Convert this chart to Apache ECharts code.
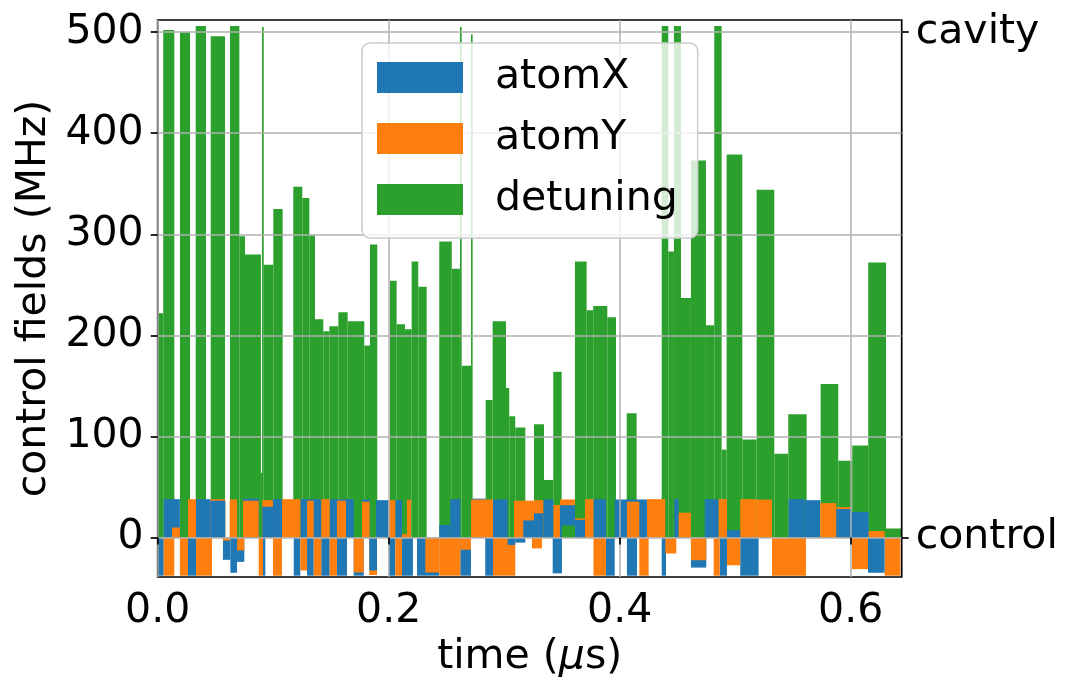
<!DOCTYPE html>
<html>
<head>
<meta charset="utf-8">
<title>control fields</title>
<script src="https://cdn.jsdelivr.net/npm/echarts@6/dist/echarts.min.js"></script>
<style>
  html, body { margin: 0; padding: 0; background: #fff; }
  #chart { width: 1077px; height: 699px; }
</style>
</head>
<body>
<div id="chart"></div>
<script>
// [start (µs), end (µs), value (MHz)]
const detuning = [
  [0.0000, 0.0048, 222], [0.0048, 0.0144, 502], [0.0193, 0.0280, 500], [0.0329, 0.0418, 506],
  [0.0459, 0.0583, 496], [0.0626, 0.0707, 506], [0.0707, 0.0756, 298], [0.0756, 0.0894, 280],
  [0.0894, 0.0903, 64], [0.0903, 0.0918, 505], [0.0918, 0.1001, 270], [0.1001, 0.1082, 325],
  [0.1174, 0.1252, 347], [0.1252, 0.1313, 336], [0.1313, 0.1362, 299], [0.1362, 0.1434, 216],
  [0.1434, 0.1486, 204], [0.1486, 0.1564, 209], [0.1564, 0.1645, 223], [0.1645, 0.1789, 214],
  [0.1789, 0.1838, 190], [0.1838, 0.1901, 290], [0.2011, 0.2069, 254], [0.2069, 0.2141, 211],
  [0.2141, 0.2199, 206], [0.2199, 0.2256, 273], [0.2256, 0.2329, 248], [0.2438, 0.2546, 293],
  [0.2546, 0.2617, 266], [0.2617, 0.2632, 505], [0.2632, 0.2713, 170], [0.2713, 0.2727, 498],
  [0.2840, 0.2900, 136], [0.2900, 0.3016, 214], [0.3016, 0.3044, 148], [0.3044, 0.3096, 120],
  [0.3096, 0.3183, 109], [0.3258, 0.3345, 112], [0.3345, 0.3425, 57], [0.3425, 0.3498, 164],
  [0.3498, 0.3613, 12], [0.3613, 0.3714, 273], [0.3714, 0.3771, 225], [0.3771, 0.3893, 229],
  [0.3893, 0.3968, 218], [0.4061, 0.4147, 123], [0.4364, 0.4421, 506], [0.4421, 0.4470, 283],
  [0.4470, 0.4531, 506], [0.4531, 0.4617, 237], [0.4617, 0.4747, 373], [0.4747, 0.4819, 210],
  [0.4819, 0.4883, 506], [0.4883, 0.4926, 87], [0.4926, 0.5062, 379], [0.5062, 0.5186, 97],
  [0.5186, 0.5339, 344], [0.5339, 0.5460, 83], [0.5460, 0.5619, 122], [0.5740, 0.5893, 152],
  [0.5893, 0.6014, 76], [0.6014, 0.6152, 91], [0.6152, 0.6306, 272], [0.6306, 0.6442, 9]
]

const atomX = [
  [0.0000, 0.0052, -37.7], [0.0052, 0.0192, 38], [0.0262, 0.0332, -37.7], [0.0332, 0.0455, 38],
  [0.0455, 0.0585, 36.5], [0.0565, 0.0629, -22], [0.0629, 0.0687, -34.8], [0.0687, 0.0750, -24],
  [0.0739, 0.0874, 38.5], [0.0906, 0.0998, 30.5], [0.0912, 0.0932, -37.7], [0.0998, 0.1076, 38],
  [0.1178, 0.1235, -37.7], [0.1235, 0.1416, 38], [0.1293, 0.1351, -37.7], [0.1416, 0.1489, -37.7],
  [0.1489, 0.1697, 38], [0.1552, 0.1639, -37.7], [0.1697, 0.1784, -37.7], [0.1769, 0.1835, 37.7],
  [0.1832, 0.1899, -32.5], [0.1890, 0.2000, 37], [0.2000, 0.2057, -37.7], [0.2057, 0.2115, 37],
  [0.2115, 0.2210, -37.7], [0.2245, 0.2438, -37.7], [0.2438, 0.2533, 12.4], [0.2533, 0.2620, 38],
  [0.2620, 0.2713, -37.7], [0.2713, 0.2842, 38.5], [0.2836, 0.2903, -37.7], [0.2903, 0.3030, 37.7],
  [0.3030, 0.3096, -7.3], [0.3096, 0.3183, -5], [0.3165, 0.3258, 17], [0.3258, 0.3339, 24],
  [0.3339, 0.3427, 37.7], [0.3420, 0.3500, -35.4], [0.3483, 0.3613, 32], [0.3613, 0.3700, 17.5],
  [0.3773, 0.3881, 38], [0.3881, 0.3957, -37.7], [0.3957, 0.4236, 37.6], [0.4063, 0.4150, -37.7],
  [0.4364, 0.4401, -37.7], [0.4473, 0.4511, 38], [0.4617, 0.4750, -29.7], [0.4736, 0.4857, 38],
  [0.4866, 0.4929, -37.7], [0.4929, 0.5044, 7.3], [0.5044, 0.5203, -37.7], [0.5463, 0.5602, 38],
  [0.5602, 0.5737, 37], [0.5875, 0.6011, 28.2], [0.6011, 0.6156, 25.4], [0.6150, 0.6294, -34.8]
]

const atomY = [
  [0.0052, 0.0144, -37.7], [0.0124, 0.0192, 10], [0.0192, 0.0262, -37.7], [0.0262, 0.0332, 38],
  [0.0332, 0.0470, -37.7], [0.0455, 0.0585, 38], [0.0565, 0.0629, -3], [0.0623, 0.0687, 37.7],
  [0.0687, 0.0750, -12.7], [0.0739, 0.0874, 36.5], [0.0874, 0.0912, -37.7], [0.0906, 0.0998, 37],
  [0.0998, 0.1076, -37.7], [0.1076, 0.1235, 38], [0.1235, 0.1293, -32.5], [0.1293, 0.1351, 36.5],
  [0.1351, 0.1416, -37.7], [0.1416, 0.1489, 38], [0.1489, 0.1552, -37.7], [0.1552, 0.1630, 36.5],
  [0.1697, 0.1784, -34.5], [0.1769, 0.1835, 35.5], [0.1832, 0.1899, -37], [0.2000, 0.2057, 37],
  [0.2057, 0.2115, -37.7], [0.2115, 0.2158, 3.5], [0.2158, 0.2193, 37.5], [0.2317, 0.2438, -34.5],
  [0.2438, 0.2620, -37.7], [0.2620, 0.2713, -12], [0.2713, 0.2903, 37.7], [0.2903, 0.3096, -37.7],
  [0.3085, 0.3258, 36.5], [0.3241, 0.3327, -10.7], [0.3258, 0.3339, 37], [0.3427, 0.3483, 32.2],
  [0.3483, 0.3613, 37.7], [0.3613, 0.3700, 19], [0.3700, 0.3773, 38], [0.3773, 0.3881, -37.7],
  [0.4063, 0.4170, 35.5], [0.4170, 0.4251, -37.7], [0.4236, 0.4395, 38], [0.4395, 0.4490, -15.7],
  [0.4511, 0.4617, 24.6], [0.4617, 0.4750, -22.4], [0.4814, 0.4866, -37.7], [0.4857, 0.4929, 38],
  [0.4929, 0.5044, -27.4], [0.5044, 0.5183, 38], [0.5183, 0.5319, 37.5], [0.5319, 0.5613, -37.7],
  [0.5737, 0.5875, 34.1], [0.5875, 0.6011, 30], [0.6011, 0.6150, -31.2], [0.6156, 0.6294, 6.4],
  [0.6294, 0.6430, -37.7]
]

const xTicks = [0, 0.2, 0.4, 0.6]
const yTicks = [0, 100, 200, 300, 400, 500]
const rightTicks = [0, 500]
const rightLabels = { 0: 'control', 500: 'cavity' }

const FONT = 'DejaVu Sans'
const chart = echarts.init(document.getElementById('chart'), null, { renderer: 'canvas' })

// shorter bars end up on top, like in the original plot
const renderItem = (params, api) => {
  const v = api.value(2)
  const p0 = api.coord([api.value(0), 0])
  const p1 = api.coord([api.value(1), v])
  return {
    type: 'rect',
    shape: {
      x: p0[0],
      y: Math.min(p0[1], p1[1]),
      width: p1[0] - p0[0],
      height: Math.abs(p1[1] - p0[1]),
    },
    style: { fill: api.visual('color') },
    z2: 1000 - Math.abs(v),
  }
}

const makeSeries = (name, data, color) => ({
  name,
  type: 'custom',
  renderItem,
  data,
  encode: { x: [0, 1], y: 2 },
  itemStyle: { color },
  animation: false,
})

const axisText = { color: '#000', fontSize: 41, fontFamily: FONT }

chart.setOption({
  animation: false,
  grid: {
    left: 157.7, right: 175.3, top: 20, bottom: 122,
    show: true, borderColor: '#000', borderWidth: 1.7, z: 3,
  },
  legend: {
    orient: 'vertical',
    left: 362, top: 43,
    padding: [14, 20, 18, 15],
    itemWidth: 86, itemHeight: 31, itemGap: 20,
    icon: 'rect',
    backgroundColor: 'rgba(255,255,255,0.8)',
    borderColor: '#cccccc', borderWidth: 1.5, borderRadius: 8,
    textStyle: { ...axisText, lineHeight: 41, padding: [0, 0, 0, 27] },
    data: ['atomX', 'atomY', 'detuning'],
  },
  xAxis: {
    type: 'value', min: 0, max: 0.6442, interval: 0.2, z: 3,
    name: 'time ({i|μ}s)', nameLocation: 'middle', nameGap: 60,
    nameTextStyle: { ...axisText, rich: { i: { ...axisText, fontStyle: 'italic' } } },
    axisLine: { show: false },
    axisTick: { show: true, length: 7, lineStyle: { color: '#000', width: 1.7 }, customValues: xTicks },
    axisLabel: { ...axisText, margin: 14, customValues: xTicks, formatter: (v) => v.toFixed(1) },
    splitLine: { show: true, lineStyle: { color: '#b0b0b0', width: 1.5 } },
  },
  yAxis: [
    {
      type: 'value', min: -39, max: 512, z: 3,
      name: 'control fields (MHz)', nameLocation: 'middle', nameGap: 98,
      nameTextStyle: axisText,
      axisLine: { show: false },
      axisTick: { show: true, length: 7, lineStyle: { color: '#000', width: 1.7 }, customValues: yTicks },
      axisLabel: { ...axisText, margin: 14, customValues: yTicks },
      splitLine: { show: true, lineStyle: { color: '#b0b0b0', width: 1.5 } },
    },
    {
      type: 'value', min: -39, max: 512, position: 'right', z: 3,
      axisLine: { show: false },
      axisTick: { show: true, length: 7, lineStyle: { color: '#000', width: 1.7 }, customValues: rightTicks },
      axisLabel: {
        ...axisText, margin: 14, customValues: rightTicks,
        formatter: (v) => rightLabels[v] || '',
      },
      splitLine: { show: false },
    },
  ],
  series: [
    makeSeries('atomX', atomX, '#1f77b4'),
    makeSeries('atomY', atomY, '#ff7f0e'),
    makeSeries('detuning', detuning, '#2ca02c'),
  ],
})
</script>
</body>
</html>
